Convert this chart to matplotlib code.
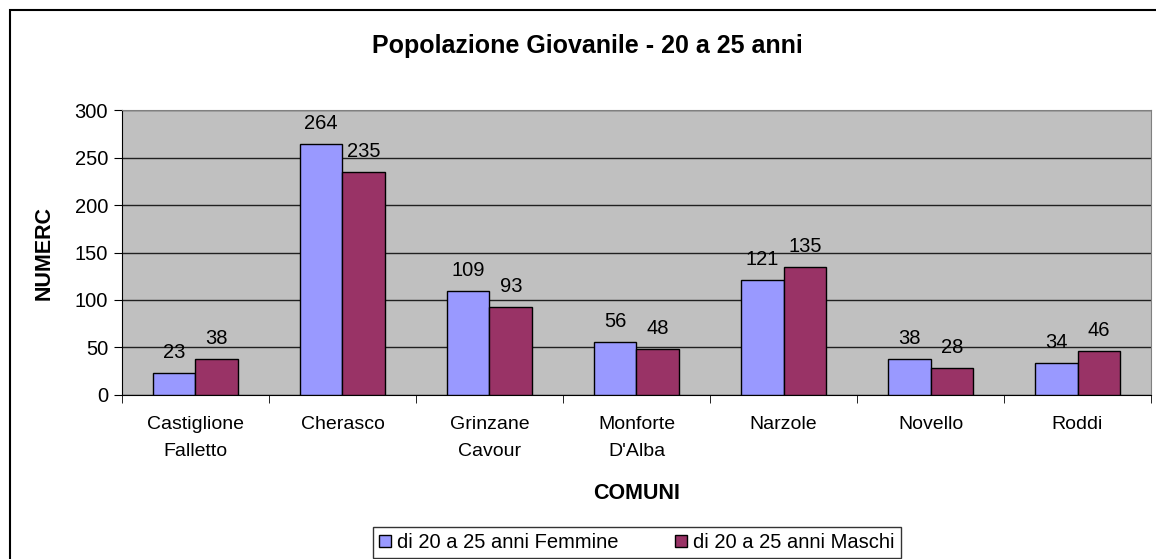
import numpy as np
import matplotlib.pyplot as plt
from matplotlib.patches import Rectangle

comuni = ['Castiglione\nFalletto', 'Cherasco', 'Grinzane\nCavour', 'Monforte\nD\'Alba',
          'Narzole', 'Novello', 'Roddi']
femmine = [23, 264, 109, 56, 121, 38, 34]
maschi = [38, 235, 93, 48, 135, 28, 46]
series_names = ['di 20 a 25 anni Femmine', 'di 20 a 25 anni Maschi']

plt.rcParams['font.family'] = ['Liberation Sans', 'DejaVu Sans']

fig = plt.figure(figsize=(11.56, 5.59), dpi=100)
ax = fig.add_axes((0.1055, 0.2934, 0.8902, 0.5098))
ax.set_facecolor('#C0C0C0')

x = np.arange(len(comuni))
w = 0.29
b1 = ax.bar(x - w / 2, femmine, w, color='#9999FF', edgecolor='black', linewidth=1,
            label=series_names[0], zorder=3)
b2 = ax.bar(x + w / 2, maschi, w, color='#993366', edgecolor='black', linewidth=1,
            label=series_names[1], zorder=3)

for bars, vals in [(b1, femmine), (b2, maschi)]:
    for r, v in zip(bars, vals):
        ax.annotate(str(v), (r.get_x() + r.get_width() / 2, v), xytext=(0, 8),
                    textcoords='offset points', ha='center', va='bottom', fontsize=14.5)

ax.set_xlim(-0.5, len(comuni) - 0.5)
ax.set_ylim(0, 300)
ax.set_yticks(range(0, 301, 50))
ax.yaxis.grid(True, color='#202020', linewidth=1, zorder=1)
ax.set_axisbelow(True)
ax.set_xticks(x)
ax.set_xticklabels(comuni, fontsize=14, linespacing=1.75)
ax.set_xticks(np.arange(-0.5, len(comuni), 1), minor=True)
ax.tick_params(axis='x', which='major', length=0, pad=15)
ax.tick_params(axis='x', which='minor', length=6, direction='out')
ax.tick_params(axis='y', length=6, direction='out', labelsize=14.5, pad=4)

for s in ['top', 'right']:
    ax.spines[s].set_color('#808080')
ax.spines['left'].set_color('black')
ax.spines['bottom'].set_color('black')

ax.set_xlabel('COMUNI', fontsize=15.5, fontweight='bold', labelpad=17)
ax.set_ylabel('NUMERC', fontsize=15.5, fontweight='bold', labelpad=14)

fig.text(587 / 1156, 1 - 46 / 559, 'Popolazione Giovanile - 20 a 25 anni', ha='center',
         va='center', fontsize=18, fontweight='bold')

# outer chart border
fig.add_artist(Rectangle((10 / 1156, -0.01), 1.05, 1 - 10 / 559 + 0.01,
                         transform=fig.transFigure, fill=False, edgecolor='black',
                         linewidth=1.5))

leg = fig.legend(handles=[b1, b2], loc='upper left', bbox_to_anchor=(373 / 1156, 1 - 527 / 559),
                 ncol=2, frameon=True, fancybox=False, edgecolor='black', fontsize=14.5,
                 handlelength=0.6, handleheight=0.6, handletextpad=0.3, columnspacing=2.8,
                 borderpad=0.3, borderaxespad=0)
leg.get_frame().set_linewidth(1)

fig.savefig('out.png', dpi=100)
